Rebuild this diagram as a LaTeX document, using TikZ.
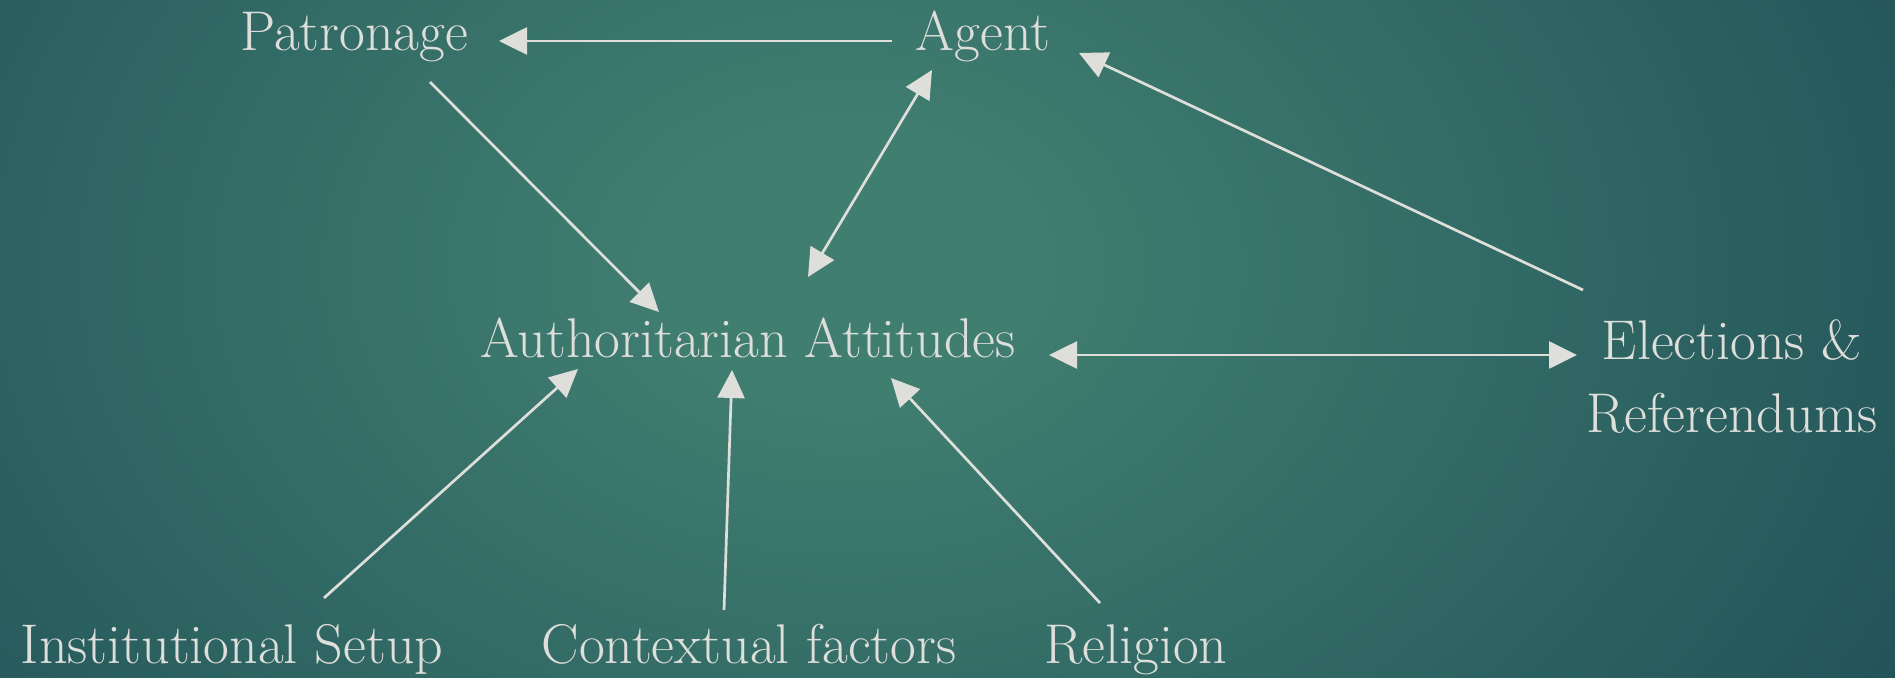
\documentclass[tikz,border=0pt]{standalone}
\usepackage{tikz}
\usetikzlibrary{arrows.meta}
\usetikzlibrary{positioning}
\definecolor{bgin}{RGB}{64,126,112}
\definecolor{bgout}{RGB}{29,76,85}
\definecolor{fg}{RGB}{222,222,218}
\pgfdeclareradialshading{glow}{\pgfpoint{0bp}{0bp}}{color(0bp)=(bgin); color(4bp)=(bgin); color(31bp)=(bgout); color(50bp)=(bgout)}

\begin{document}
\begin{tikzpicture}[x=0.5pt,y=-0.5pt,every path/.style={>={Triangle[length=14pt,width=13.5pt]}},
		factor/.style={text=fg,inner sep=0pt,font=\fontsize{28}{36.5}\selectfont},
		arr/.style={draw=fg,line width=1.35pt}]
		\useasboundingbox (0,0) rectangle (1895,678);

		% draw background
		\begin{scope}
			\clip (0,0) rectangle (1895,678);
			\shade[shading=glow] (-254,-534) rectangle (1946,1066);
		\end{scope}

		% draw top row
		\node (patronage) at (354,51) [factor,anchor=base] {Patronage};
		\node (agent) at (983,51) [factor,anchor=base] {Agent};

		% draw middle row
		\node (auth) at (748,358) [factor,anchor=base] {Authoritarian Attitudes};
		\node (elect) at (1732,377) [factor,align=center] {Elections \&\\Referendums};

		% draw bottom row
		\node (inst) at (232,663) [factor,anchor=base] {Institutional Setup};
		\node (context) at (749,663) [factor,anchor=base] {Contextual factors};
		\node (religion) at (1136,663) [factor,anchor=base] {Religion};

		% draw arrows between the top row and the attitudes
		\draw[arr,->] ([shift={(-91,-10)}]agent.base) -- ([shift={(145,-10)}]patronage.base);
		\draw[arr,->] ([shift={(76,31)}]patronage.base) -- ([shift={(-89,-46)}]auth.base);
		\draw[arr,<->] ([shift={(-51,19)}]agent.base) -- ([shift={(60,-81)}]auth.base);
		\draw[arr,->] ([shift={(-149,-87)}]elect.center) -- ([shift={(96,2)}]agent.base);
		\draw[arr,<->] ([shift={(301,-3)}]auth.base) -- ([shift={(-155,-22)}]elect.center);

		% draw arrows from the bottom row to the attitudes
		\draw[arr,->] ([shift={(92,-65)}]inst.base) -- ([shift={(-170,11)}]auth.base);
		\draw[arr,->] ([shift={(-25,-53)}]context.base) -- ([shift={(-16,12)}]auth.base);
		\draw[arr,->] ([shift={(-36,-60)}]religion.base) -- ([shift={(143,20)}]auth.base);
\end{tikzpicture}
\end{document}
